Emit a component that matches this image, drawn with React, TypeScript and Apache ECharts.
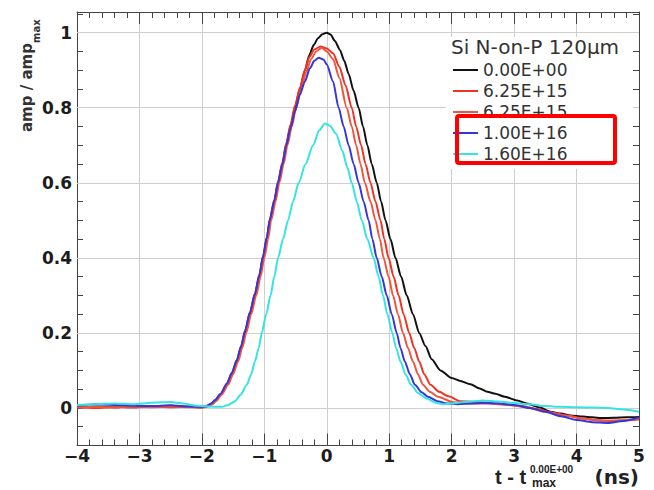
import React, { useEffect, useRef } from "react";
import * as echarts from "echarts";

// ---------- data ----------
const SERIES_NAMES = ["0.00E+00", "6.25E+15", "6.25E+15 ", "1.00E+16", "1.60E+16"];

// [t (ns), amp / amp_max]
const FLUENCE_0: number[][] = [
  [-4, 0.0], [-3.7, 0.004], [-3.4, 0.002], [-3.1, 0.005], [-2.8, 0.003], [-2.5, 0.006], [-2.2, 0.003], [-2.0, 0.002],
  [-1.93, 0.004], [-1.85, 0.01], [-1.79, 0.018], [-1.7, 0.035], [-1.6, 0.062], [-1.52, 0.09], [-1.44, 0.124],
  [-1.37, 0.16], [-1.31, 0.2], [-1.23, 0.25], [-1.15, 0.3], [-1.08, 0.35], [-1.02, 0.4], [-0.96, 0.45], [-0.91, 0.5],
  [-0.84, 0.55], [-0.78, 0.6], [-0.71, 0.65], [-0.65, 0.7], [-0.58, 0.75], [-0.51, 0.8], [-0.43, 0.85], [-0.35, 0.9],
  [-0.28, 0.94], [-0.21, 0.967], [-0.14, 0.985], [-0.07, 0.996], [0, 1.0], [0.06, 0.995], [0.13, 0.978], [0.21, 0.954],
  [0.28, 0.925], [0.35, 0.89], [0.43, 0.845], [0.51, 0.8], [0.58, 0.75], [0.65, 0.7], [0.72, 0.65], [0.8, 0.6],
  [0.87, 0.55], [0.94, 0.5], [1.02, 0.45], [1.1, 0.4], [1.19, 0.35], [1.28, 0.3], [1.38, 0.25], [1.48, 0.2],
  [1.58, 0.165], [1.68, 0.13], [1.82, 0.1], [2.0, 0.08], [2.14, 0.072], [2.3, 0.063], [2.45, 0.052],
  [2.57, 0.043], [2.7, 0.038], [2.85, 0.03], [3.05, 0.02], [3.2, 0.012], [3.4, 0.002], [3.58, -0.01], [3.75, -0.015],
  [3.9, -0.02], [4.1, -0.023], [4.25, -0.025], [4.4, -0.027], [4.6, -0.026], [4.8, -0.025], [5.0, -0.024],
];

const FLUENCE_625_A: number[][] = [
  [-4, 0.002], [-3.7, 0.0], [-3.4, 0.003], [-3.1, 0.001], [-2.8, 0.004], [-2.5, 0.002], [-2.2, 0.003], [-2.0, 0.001],
  [-1.93, 0.003], [-1.85, 0.011], [-1.79, 0.02], [-1.7, 0.037], [-1.6, 0.064], [-1.52, 0.093], [-1.44, 0.128],
  [-1.37, 0.165], [-1.31, 0.205], [-1.23, 0.255], [-1.15, 0.305], [-1.08, 0.355], [-1.02, 0.405], [-0.96, 0.455],
  [-0.91, 0.505], [-0.84, 0.555], [-0.78, 0.605], [-0.71, 0.655], [-0.65, 0.705], [-0.58, 0.755], [-0.51, 0.805],
  [-0.43, 0.853], [-0.35, 0.9], [-0.28, 0.935], [-0.2, 0.955], [-0.1, 0.963], [0, 0.958], [0.1, 0.945], [0.2, 0.91],
  [0.3, 0.86], [0.4, 0.8], [0.47, 0.75], [0.55, 0.7], [0.62, 0.65], [0.7, 0.6], [0.78, 0.55], [0.86, 0.5],
  [0.92, 0.45], [0.99, 0.4], [1.07, 0.35], [1.15, 0.3], [1.23, 0.25], [1.32, 0.2], [1.4, 0.16], [1.48, 0.124],
  [1.56, 0.09], [1.66, 0.062], [1.8, 0.043], [1.95, 0.031], [2.14, 0.018], [2.35, 0.016], [2.6, 0.014], [2.85, 0.01],
  [3.1, 0.006], [3.35, -0.002], [3.6, -0.012], [3.85, -0.02], [4.1, -0.028], [4.35, -0.033], [4.6, -0.035],
  [4.8, -0.033], [5.0, -0.03],
];

const FLUENCE_625_B: number[][] = [
  [-4, 0.001], [-3.7, 0.003], [-3.4, 0.001], [-3.1, 0.004], [-2.8, 0.002], [-2.5, 0.004], [-2.2, 0.002], [-2.0, 0.002],
  [-1.9, 0.004], [-1.83, 0.01], [-1.77, 0.019], [-1.68, 0.036], [-1.58, 0.062], [-1.5, 0.09], [-1.42, 0.124],
  [-1.35, 0.162], [-1.29, 0.2], [-1.21, 0.25], [-1.13, 0.3], [-1.06, 0.35], [-1.0, 0.4], [-0.94, 0.45], [-0.89, 0.5],
  [-0.82, 0.55], [-0.76, 0.6], [-0.69, 0.65], [-0.63, 0.7], [-0.56, 0.75], [-0.49, 0.8], [-0.41, 0.85], [-0.33, 0.895],
  [-0.25, 0.93], [-0.17, 0.95], [-0.08, 0.96], [0, 0.95], [0.1, 0.93], [0.2, 0.88], [0.32, 0.8], [0.4, 0.75],
  [0.47, 0.7], [0.54, 0.65], [0.61, 0.6], [0.7, 0.55], [0.78, 0.5], [0.85, 0.45], [0.91, 0.4], [0.99, 0.35],
  [1.06, 0.3], [1.14, 0.25], [1.22, 0.2], [1.3, 0.16], [1.38, 0.124], [1.46, 0.09], [1.54, 0.062], [1.65, 0.043],
  [1.78, 0.03], [2.03, 0.015], [2.3, 0.012], [2.6, 0.012], [2.9, 0.008], [3.2, 0.002], [3.5, -0.01], [3.8, -0.02],
  [4.1, -0.028], [4.4, -0.034], [4.7, -0.033], [5.0, -0.03],
];

const FLUENCE_1E16: number[][] = [
  [-4, 0.006], [-3.7, 0.01], [-3.4, 0.008], [-3.1, 0.006], [-2.8, 0.005], [-2.5, 0.007], [-2.2, 0.004], [-2.0, 0.003],
  [-1.93, 0.005], [-1.85, 0.012], [-1.79, 0.021], [-1.7, 0.038], [-1.6, 0.065], [-1.52, 0.094], [-1.44, 0.128],
  [-1.37, 0.166], [-1.31, 0.205], [-1.23, 0.255], [-1.15, 0.305], [-1.08, 0.355], [-1.02, 0.405], [-0.96, 0.455],
  [-0.91, 0.503], [-0.84, 0.553], [-0.78, 0.6], [-0.71, 0.65], [-0.65, 0.698], [-0.58, 0.745], [-0.51, 0.79],
  [-0.43, 0.835], [-0.35, 0.87], [-0.27, 0.905], [-0.2, 0.925], [-0.13, 0.933], [-0.05, 0.928], [0.0, 0.915],
  [0.1, 0.87], [0.19, 0.8], [0.27, 0.75], [0.35, 0.7], [0.43, 0.65], [0.51, 0.6], [0.59, 0.55], [0.67, 0.5],
  [0.73, 0.45], [0.8, 0.4], [0.88, 0.35], [0.96, 0.3], [1.04, 0.25], [1.12, 0.2], [1.18, 0.16], [1.25, 0.124],
  [1.33, 0.09], [1.41, 0.062], [1.52, 0.042], [1.62, 0.03], [1.77, 0.018], [1.93, 0.012], [2.1, 0.01], [2.3, 0.012],
  [2.5, 0.013], [2.75, 0.012], [3.0, 0.008], [3.25, 0.0], [3.5, -0.01], [3.75, -0.022], [4.0, -0.032], [4.25, -0.038],
  [4.5, -0.04], [4.75, -0.035], [5.0, -0.025],
];

const FLUENCE_16E16: number[][] = [
  [-4, 0.008], [-3.7, 0.01], [-3.4, 0.012], [-3.1, 0.01], [-2.8, 0.014], [-2.5, 0.016], [-2.3, 0.012], [-2.1, 0.006],
  [-1.9, 0.004], [-1.68, 0.003], [-1.58, 0.008], [-1.47, 0.018], [-1.38, 0.035], [-1.28, 0.062], [-1.21, 0.09],
  [-1.15, 0.124], [-1.09, 0.16], [-1.04, 0.2], [-0.97, 0.25], [-0.9, 0.3], [-0.84, 0.35], [-0.78, 0.4], [-0.7, 0.45],
  [-0.62, 0.5], [-0.54, 0.55], [-0.45, 0.6], [-0.34, 0.65], [-0.22, 0.7], [-0.12, 0.74], [-0.03, 0.758], [0.05, 0.752],
  [0.15, 0.73], [0.25, 0.685], [0.33, 0.64], [0.4, 0.6], [0.48, 0.55], [0.56, 0.5], [0.65, 0.45],
  [0.75, 0.4], [0.83, 0.35], [0.9, 0.3], [0.97, 0.25], [1.05, 0.2], [1.11, 0.16], [1.18, 0.124], [1.26, 0.09],
  [1.35, 0.062], [1.46, 0.04], [1.6, 0.025], [1.75, 0.014], [1.87, 0.01], [2.0, 0.012], [2.2, 0.016], [2.5, 0.02],
  [2.75, 0.017], [3.0, 0.013], [3.25, 0.01], [3.5, 0.005], [3.75, 0.003], [4.0, 0.002], [4.25, 0.001], [4.5, 0.0],
  [4.75, -0.004], [5.0, -0.01],
];

const SERIES_DATA = [FLUENCE_0, FLUENCE_625_A, FLUENCE_625_B, FLUENCE_1E16, FLUENCE_16E16];
const SERIES_COLORS = ["#111111", "#ee3322", "#f0553f", "#3535dc", "#35e3e3"];

const X_MIN = -4;
const X_MAX = 5;
const Y_MIN = -0.1;
const Y_MAX = 1.055;
const Y_MAJOR = [0, 0.2, 0.4, 0.6, 0.8, 1.0];
const Y_MINOR = [-0.05, 0.05, 0.1, 0.15, 0.25, 0.3, 0.35, 0.45, 0.5, 0.55, 0.65, 0.7, 0.75, 0.85, 0.9, 0.95, 1.05];

const LEGEND_HEADER = "Si N-on-P 120\u03bcm";

export default function App() {
  const ref = useRef<HTMLDivElement>(null);

  useEffect(() => {
    if (!ref.current) return;
    const chart = echarts.init(ref.current, undefined, { renderer: "svg" });
    const frame = "#444";
    const tickFont = { fontFamily: "DejaVu Sans", fontWeight: "bold" as const, fontSize: 17, color: "#1c1c1c", lineHeight: 17 };

    const yAxisBase = (position: "left" | "right", values: number[], len: number, labels: boolean, line: boolean) => ({
      type: "value" as const,
      min: Y_MIN,
      max: Y_MAX,
      position,
      axisLine: { show: line, onZero: false, lineStyle: { color: frame, width: 1 } },
      axisTick: { show: true, inside: true, length: len, customValues: values, lineStyle: { color: frame } },
      axisLabel: labels
        ? { show: true, customValues: values, margin: 5, ...tickFont, formatter: (v: number) => String(Math.round(v * 10) / 10) }
        : { show: false },
      splitLine: { show: false },
    });

    const xAxisBase = (position: "bottom" | "top", labels: boolean, split: boolean) => ({
      type: "value" as const,
      min: X_MIN,
      max: X_MAX,
      interval: 1,
      position,
      axisLine: { show: true, onZero: false, lineStyle: { color: frame, width: 1 } },
      axisTick: { show: true, inside: true, length: 12, lineStyle: { color: frame } },
      minorTick: { show: true, splitNumber: 5, length: 6, lineStyle: { color: frame } },
      axisLabel: labels
        ? { show: true, margin: 2, ...tickFont, formatter: (v: number) => (v < 0 ? "\u2212" + Math.abs(v) : String(v)) }
        : { show: false },
      splitLine: { show: split, lineStyle: { color: "#cfcfcf", width: 1 } },
      minorSplitLine: { show: false },
    });

    const series: any[] = SERIES_DATA.map((d, i) => ({
      name: SERIES_NAMES[i],
      type: "line",
      data: d,
      showSymbol: false,
      smooth: 0.25,
      smoothMonotone: "x",
      color: SERIES_COLORS[i],
      lineStyle: { width: 2, color: SERIES_COLORS[i] },
      z: 3 + i,
    }));
    series[0].markLine = {
      silent: true,
      symbol: "none",
      label: { show: false },
      lineStyle: { color: "#cfcfcf", width: 1, type: "solid" },
      data: Y_MAJOR.map((v) => ({ yAxis: v })),
      z: 1,
    };

    chart.setOption({
      animation: false,
      backgroundColor: "#ffffff",
      grid: { left: 77, right: 15, top: 12, bottom: 44.5 },
      xAxis: [xAxisBase("bottom", true, true), xAxisBase("top", false, false)],
      yAxis: [
        yAxisBase("left", Y_MAJOR, 12, true, true),
        yAxisBase("left", Y_MINOR, 6, false, false),
        yAxisBase("right", Y_MAJOR, 12, false, true),
        yAxisBase("right", Y_MINOR, 6, false, false),
      ],
      legend: {
        orient: "vertical",
        left: 453,
        top: 61,
        padding: 0,
        itemWidth: 25,
        itemHeight: 2,
        itemGap: 3,
        icon: "rect",
        selectedMode: false,
        data: SERIES_NAMES,
        textStyle: { fontFamily: "DejaVu Sans", fontSize: 17, color: "#333", lineHeight: 18 },
        z: 6,
      },
      graphic: [
        { type: "rect", z: 5, shape: { x: 446, y: 37, width: 187, height: 132 }, style: { fill: "#ffffff" } },
        {
          type: "text", z: 7, x: 451, y: 47,
          style: { text: LEGEND_HEADER, fontFamily: "DejaVu Sans", fontSize: 20, fill: "#333", verticalAlign: "middle" },
        },
        {
          type: "rect", z: 10, shape: { x: 457, y: 116, width: 158, height: 47, r: 2 },
          style: { fill: "none", stroke: "#ff0000", lineWidth: 4 },
        },
        {
          type: "text", z: 7, x: 27, y: 132, rotation: Math.PI / 2,
          style: { text: "amp / amp", fontFamily: "DejaVu Sans", fontWeight: "bold", fontSize: 15, fill: "#333", align: "left", verticalAlign: "middle" },
        },
        {
          type: "text", z: 7, x: 36, y: 43, rotation: Math.PI / 2,
          style: { text: "max", fontFamily: "DejaVu Sans", fontWeight: "bold", fontSize: 10, fill: "#333", align: "left", verticalAlign: "middle" },
        },
        {
          type: "text", z: 7, x: 495, y: 477,
          style: { text: "t - t", fontFamily: "Liberation Sans", fontWeight: "bold", fontSize: 20, fill: "#222", align: "left", verticalAlign: "middle" },
        },
        {
          type: "text", z: 7, x: 530, y: 469.5,
          style: { text: "0.00E+00", fontFamily: "Liberation Sans", fontWeight: "bold", fontSize: 10, fill: "#222", align: "left", verticalAlign: "middle" },
        },
        {
          type: "text", z: 7, x: 532, y: 483,
          style: { text: "max", fontFamily: "Liberation Sans", fontWeight: "bold", fontSize: 12, fill: "#222", align: "left", verticalAlign: "middle" },
        },
        {
          type: "text", z: 7, x: 639, y: 477,
          style: { text: "(ns)", fontFamily: "DejaVu Sans", fontWeight: "bold", fontSize: 20, fill: "#222", align: "right", verticalAlign: "middle" },
        },
      ],
      series,
    });

    return () => chart.dispose();
  }, []);

  return <div ref={ref} style={{ width: 654, height: 490, position: "absolute", left: 0, top: 0 }} />;
}
